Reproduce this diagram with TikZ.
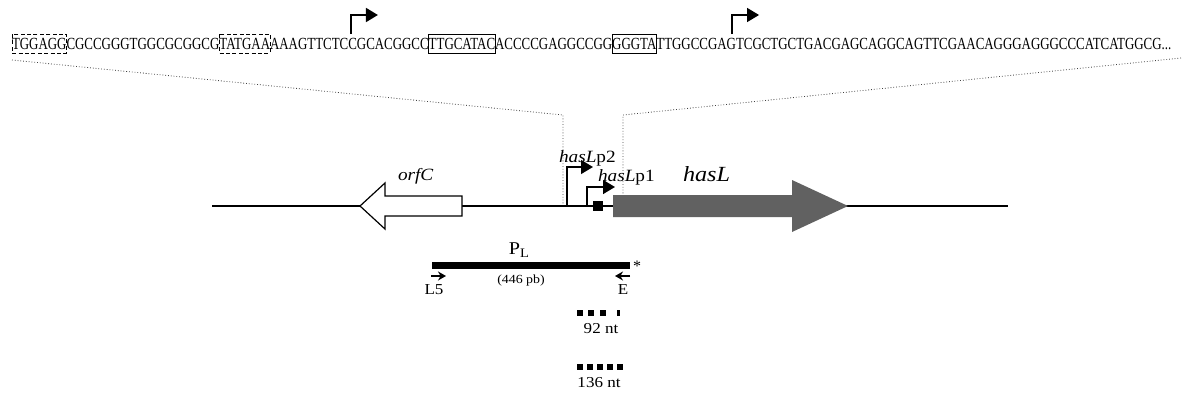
\documentclass[tikz,border=0pt]{standalone}
\usepackage{fontspec}
\setmainfont{Liberation Serif}
\newfontfamily\seqfont[FakeStretch=0.76]{Liberation Serif}
\newfontfamily\labfont[FakeStretch=1.12]{Liberation Serif}
\usetikzlibrary{arrows.meta}
\begin{document}
\begin{tikzpicture}[x=0.5pt,y=-0.5pt,
  seq/.style={inner sep=0pt, outer sep=0pt, anchor=base west, font=\seqfont\fontsize{8.5pt}{10pt}\selectfont},
  sbox/.style={draw, line width=0.5pt},
  dbox/.style={draw, line width=0.5pt, dash pattern=on 2pt off 1.2pt},
  tss/.style={line width=0.75pt, -{Triangle[length=6pt,width=7pt]}},
  gmap/.style={line width=1pt},
  zoomline/.style={densely dotted, line width=0.4pt, black!75},
  lab/.style={inner sep=0pt, outer sep=0pt, anchor=base west, font=\labfont\fontsize{8.6pt}{10pt}\selectfont},
  small/.style={inner sep=0pt, outer sep=0pt, anchor=base, font=\labfont\fontsize{7.6pt}{9pt}\selectfont},
  tiny/.style={inner sep=0pt, outer sep=0pt, anchor=base, font=\labfont\fontsize{6.2pt}{7pt}\selectfont},
  primer/.style={line width=0.7pt, -{Stealth[length=4pt,width=4.5pt]}}
]
\useasboundingbox (0,0) rectangle (1183,396);

% ---------- sequence ----------
\node[seq] (s1) at (12,49) {TGGAGG};
\node[seq] (s2) at (s1.base east) {CGCCGGGTGGCGCGGCG};
\node[seq] (s3) at (s2.base east) {TATGAA};
\node[seq] (s4) at (s3.base east) {AAAGTTCTCC};
\node[seq] (s5) at (s4.base east) {GCACGGCC};
\node[seq] (s6) at (s5.base east) {TTGCATAC};
\node[seq] (s7) at (s6.base east) {ACCCCGAGGCCGG};
\node[seq] (s8) at (s7.base east) {GGGTA};
\node[seq] (s9) at (s8.base east) {TTGGCCGAG};
\node[seq] (s10) at (s9.base east) {TCGCTGCTGACGAGCAGGCAGTTCGAACAGGGAGGGCCCATCATGGCG...};

\coordinate (bt) at (0,34);
\coordinate (bb) at (0,53);
\draw[dbox] (s1.west |- bt) rectangle (s1.east |- bb);
\draw[dbox] (s3.west |- bt) rectangle (s3.east |- bb);
\draw[sbox] (s6.west |- bt) rectangle (s6.east |- bb);
\draw[sbox] (s8.west |- bt) rectangle (s8.east |- bb);

% transcription starts in the sequence
\path ([xshift=-3pt]s5.west) coordinate (a1x);
\path ([xshift=-2pt]s10.west) coordinate (a2x);
\draw[tss] (a1x |- bt) |- ++(27,-19);
\draw[tss] (a2x |- bt) |- ++(27,-19);

% ---------- zoom lines ----------
\coordinate (zl) at (12,60);
\coordinate (zlc) at (563,115);
\coordinate (zlb) at (563,206);
\coordinate (zr) at (1181,58);
\coordinate (zrc) at (623,115);
\coordinate (zrb) at (623,206);
\draw[zoomline] (zl) -- (zlc) -- (zlb);
\draw[zoomline] (zr) -- (zrc) -- (zrb);

% ---------- genetic map ----------
\coordinate (m0) at (212,206);
\coordinate (m1) at (1008,206);
\draw[gmap] (m0) -- (m1);

% orfC (white arrow pointing left)
\draw[line width=0.6pt, fill=white]
  (360,206) -- (385,183) -- (385,196) -- (462,196) -- (462,216)
  -- (385,216) -- (385,229) -- cycle;
\node[lab] (orfc) at (398,180) {\textit{orfC}};

% hasL (grey arrow pointing right)
\fill[black!62]
  (613,195) -- (792,195) -- (792,180) -- (848,206) -- (792,232)
  -- (792,217) -- (613,217) -- cycle;
\node[lab, font=\labfont\fontsize{10.8pt}{12pt}\selectfont] (hasl) at (683,181) {\textit{hasL}};

% promoters
\draw[tss] (567,206) |- (593,167);
\draw[tss] (587,206) |- (615,187);
\fill (593,201) rectangle (603,211);
\node[lab] (p2) at (559,162) {\textit{hasL}p2};
\node[lab] (p1) at (598,181) {\textit{hasL}p1};

% ---------- probe P_L ----------
\node[inner sep=0pt, anchor=base, font=\labfont\fontsize{9pt}{10pt}\selectfont] (pl) at (519,254) {P\raisebox{-0.45ex}{\fontsize{6.5pt}{7pt}\selectfont L}};
\fill (432,262) rectangle (630,269);
\node[inner sep=0pt, font=\fontsize{8pt}{9pt}\selectfont] (star) at (637,266) {*};
\node[tiny] (size) at (521,283) {(446 pb)};

\coordinate (l5a) at (431,276);
\coordinate (l5b) at (446,276);
\coordinate (ea) at (630,276);
\coordinate (eb) at (615,276);
\draw[primer] (l5a) -- (l5b);
\draw[primer] (ea) -- (eb);
\node[small] (l5) at (434,294) {L5};
\node[small] (e) at (623,294) {E};

% ---------- transcripts ----------
\fill (577,310) rectangle ++(6,6);
\fill (588,310) rectangle ++(6,6);
\fill (600,310) rectangle ++(6,6);
\fill (617,310) rectangle ++(3,6);
\node[small] (t92) at (601,333) {92 nt};

\fill (577,364) rectangle ++(6,6);
\fill (587,364) rectangle ++(6,6);
\fill (597,364) rectangle ++(6,6);
\fill (607,364) rectangle ++(6,6);
\fill (617,364) rectangle ++(6,6);
\node[small] (t136) at (599,387) {136 nt};
\end{tikzpicture}
\end{document}
